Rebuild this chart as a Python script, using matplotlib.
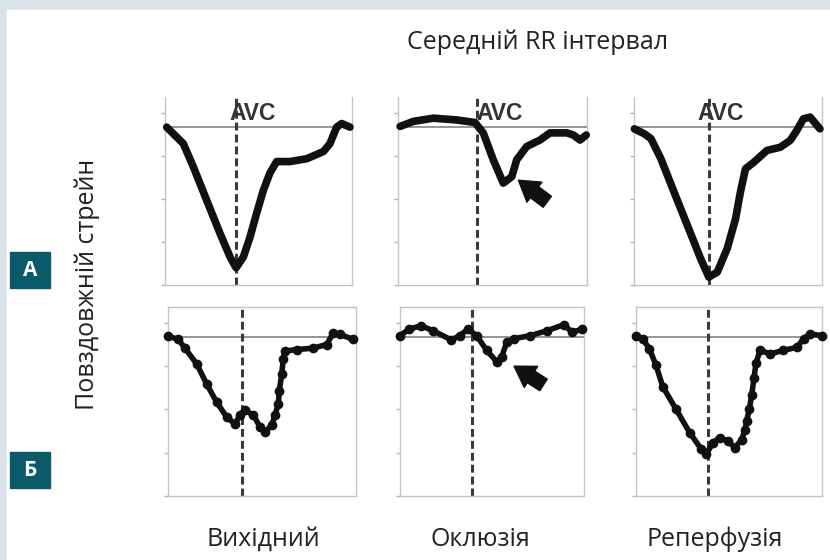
import matplotlib.pyplot as plt
from matplotlib.patches import Rectangle

plt.rcParams['font.family'] = ['Open Sans', 'DejaVu Sans']

# longitudinal strain (%) vs. time (% of mean RR interval)
a1_t = [0.9, 9.8, 15.1, 22.3, 29.4, 34.8, 38.0, 41.9, 45.5, 49.0, 52.6, 56.1, 59.7, 66.8, 75.8, 84.7, 88.2, 91.8, 94.5, 98.9]
a1_s = [0.0, -2.3, -5.5, -10.2, -14.8, -18.1, -19.6, -18.1, -15.3, -12.0, -8.8, -6.4, -4.8, -4.8, -4.4, -3.4, -2.3, 0.0, 0.5, 0.0]

a2_t = [1.1, 8.1, 18.7, 31.1, 40.7, 45.1, 50.4, 55.7, 60.2, 62.8, 68.1, 75.1, 80.4, 89.3, 92.8, 96.3, 99.6]
a2_s = [0.1, 0.8, 1.25, 1.0, 0.65, -0.8, -4.55, -7.8, -6.9, -4.55, -2.7, -1.8, -0.8, -0.8, -1.1, -1.8, -1.1]

a3_t = [0.2, 5.5, 9.0, 14.3, 21.3, 28.4, 35.4, 39.8, 44.3, 49.6, 54.0, 56.6, 59.3, 63.7, 70.7, 77.8, 83.1, 86.6, 90.1, 93.7, 98.9]
a3_s = [-0.24, -0.93, -1.6, -4.4, -9.05, -13.7, -18.3, -20.9, -20.2, -16.9, -12.8, -9.05, -5.8, -4.9, -3.25, -2.8, -1.85, -0.46, 1.16, 1.4, -0.24]

b1_t = [0.2, 5.5, 9.0, 15.3, 20.6, 25.9, 31.2, 35.6, 38.3, 41.0, 45.4, 48.9, 51.6, 55.2, 56.9, 58.7, 59.2, 60.5, 61.3, 62.2, 68.5, 77.3, 84.4, 87.9, 91.5, 98.6]
b1_s = [0.14, -0.3, -1.5, -3.7, -6.5, -9.0, -11.05, -12.0, -10.8, -10.1, -10.8, -12.4, -13.1, -12.2, -10.8, -9.2, -7.4, -5.1, -3.05, -1.9, -1.7, -1.5, -1.0, 0.6, 0.4, -0.3]

b2_t = [0.0, 5.1, 11.5, 17.9, 27.9, 32.5, 37.0, 41.6, 47.1, 52.6, 55.3, 58.0, 61.7, 70.8, 79.9, 89.0, 93.6, 99.1]
b2_s = [0.23, 1.15, 1.6, 0.92, -0.36, 0.23, 1.15, 0.23, -1.8, -3.4, -2.7, -0.7, -0.2, 0.23, 0.92, 1.74, 0.7, 1.15]

b3_t = [0.0, 3.6, 7.2, 10.8, 14.4, 21.6, 28.8, 35.1, 37.8, 41.4, 45.0, 49.5, 53.1, 56.8, 58.6, 59.5, 60.9, 62.2, 63.4, 64.5, 66.7, 72.1, 79.3, 86.5, 90.1, 93.7, 100.0]
b3_s = [0.23, -0.2, -1.6, -3.9, -6.85, -10.0, -13.2, -15.5, -16.2, -14.6, -13.9, -14.4, -15.3, -14.2, -12.8, -11.6, -10.0, -8.0, -5.7, -3.6, -1.8, -2.3, -1.8, -1.4, -0.2, 0.47, 0.23]

# aortic valve closure times
avc_top = [38.0, 41.8, 39.7]
avc_bottom = [39.2, 38.9, 38.7]

# arrows (head, tail) pointing to the ischemic dip
arrow_a2 = [(63.7, -7.4), (79.0, -10.4)]
arrow_b2 = [(62.0, -4.0), (78.0, -6.6)]

yticks = [2, -4, -10, -16, -22]
columns = ['Вихідний', 'Оклюзія', 'Реперфузія']
rows = ['А', 'Б']

W, H = 830, 560
fig = plt.figure(figsize=(W / 100, H / 100), dpi=100)


def box(x0, y0, x1, y1):
    return [x0 / W, 1 - y1 / H, (x1 - x0) / W, (y1 - y0) / H]


# page frame
fig.patches.append(Rectangle((0, 0), 1, 1, transform=fig.transFigure, color='#d9e4ea', zorder=-10))
fig.patches.append(Rectangle((7 / W, 0), 1, 1 - 10 / H, transform=fig.transFigure, color='white', zorder=-9))

top_boxes = [box(165, 97, 352, 285), box(398, 97, 587, 285), box(634, 97, 822, 285)]
bottom_boxes = [box(168, 307, 356, 496), box(400, 307, 584, 496), box(636, 307, 822, 496)]
avc_label_x = [34.3, 41.5, 34.0]

curves_top = [(a1_t, a1_s), (a2_t, a2_s), (a3_t, a3_s)]
curves_bottom = [(b1_t, b1_s), (b2_t, b2_s), (b3_t, b3_s)]
arrow_props = dict(arrowstyle='simple,head_width=1.0,head_length=0.8,tail_width=0.55',
                   color='#111111', mutation_scale=18, shrinkA=0, shrinkB=0)


def setup(ax, top_spine):
    ax.set_xlim(0, 100)
    ax.set_ylim(-22, 4.2)
    ax.set_xticks([])
    ax.set_yticks(yticks)
    ax.set_yticklabels([])
    ax.tick_params(axis='y', length=3, width=1, color='#b5b5b5', direction='out')
    for side, sp in ax.spines.items():
        sp.set_color('#c4c4c4')
        sp.set_linewidth(1)
    ax.spines['top'].set_visible(top_spine)
    ax.set_facecolor('none')
    ax.axhline(0, color='#8c8c8c', lw=1.3, zorder=1)


for i in range(3):
    ax = fig.add_axes(top_boxes[i])
    setup(ax, False)
    t, s = curves_top[i]
    ax.plot(t, s, color='#111111', lw=5.5, solid_capstyle='round', solid_joinstyle='round',
            clip_on=False, zorder=3)
    dl = ax.axvline(avc_top[i], color='#3a3a3a', lw=2.2, zorder=2)
    dl.set_dashes([2.6, 1.3])
    ax.text(avc_label_x[i], 1.9, 'AVC', family='Liberation Sans', fontweight='bold', fontsize=16.5,
            color='#333333', ha='left', va='center', zorder=4)
    if i == 1:
        ax.annotate('', xy=arrow_a2[0], xytext=arrow_a2[1], arrowprops=arrow_props)

for i in range(3):
    ax = fig.add_axes(bottom_boxes[i])
    setup(ax, True)
    t, s = curves_bottom[i]
    ax.plot(t, s, color='#111111', lw=4, marker='o', ms=6, solid_joinstyle='round',
            clip_on=False, zorder=3)
    dl = ax.axvline(avc_bottom[i], color='#3a3a3a', lw=2.2, zorder=2)
    dl.set_dashes([2.6, 1.3])
    if i == 1:
        ax.annotate('', xy=arrow_b2[0], xytext=arrow_b2[1], arrowprops=arrow_props)

txt = '#222222'
fig.text(538 / W, 1 - 42 / H, 'Середній RR інтервал', fontsize=18, color=txt, ha='center', va='center')
fig.text(87 / W, 1 - 284 / H, 'Повздовжній стрейн', fontsize=18, color=txt, rotation=90, ha='center', va='center')
for x, label in zip([263, 480, 715], columns):
    fig.text(x / W, 1 - 539 / H, label, fontsize=18, color=txt, ha='center', va='center')

# row badges
for (y0, y1), label in zip([(252, 288), (452, 488)], rows):
    fig.patches.append(Rectangle((10 / W, 1 - y1 / H), 40 / W, (y1 - y0) / H,
                                 transform=fig.transFigure, color='#0b5a6a', zorder=5))
    fig.text(30 / W, 1 - (y0 + y1) / 2 / H, label, fontsize=15, fontweight='bold', color='white',
             ha='center', va='center', zorder=6)

fig.savefig('out.png', dpi=100)
